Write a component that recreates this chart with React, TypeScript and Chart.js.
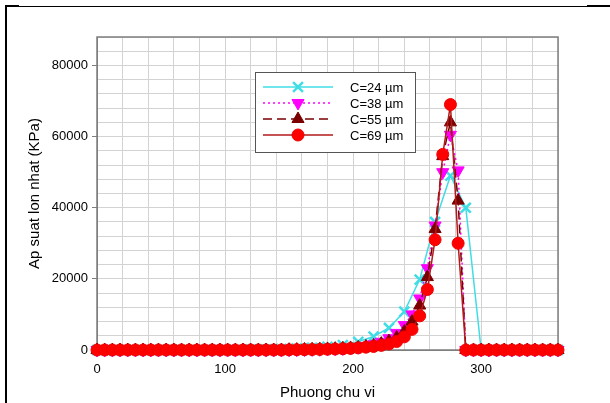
import React, { useEffect, useRef } from 'react';
import { Chart, registerables } from 'chart.js';
import { drawPoint } from 'chart.js/helpers';

Chart.register(...registerables);

// ---- data ----
const angles6 = [
  0, 6, 12, 18, 24, 30, 36, 42, 48, 54, 60, 66, 72, 78, 84, 90, 96, 102, 108, 114,
  120, 126, 132, 138, 144, 150, 156, 162, 168, 174, 180, 186, 192, 198, 204, 210,
  216, 222, 228, 234, 240, 246, 252, 258, 264, 270, 276, 282, 288, 294, 300, 306,
  312, 318, 324, 330, 336, 342, 348, 354, 360,
];
const angles12 = [
  0, 12, 24, 36, 48, 60, 72, 84, 96, 108, 120, 132, 144, 156, 168, 180, 192, 204,
  216, 228, 240, 252, 264, 276, 288, 300, 312, 324, 336, 348, 360,
];

const c24 = [
  0, 0, 0, 0, 0, 0, 0, 0, 0, 0,
  100, 180, 280, 420, 600, 900, 1400, 2300, 3800, 6200, 10800, 19800, 36000, 49000, 40000,
  0, 0, 0, 0, 0, 0,
];
const c38 = [
  0, 0, 0, 0, 0, 0, 0, 0, 0, 0, 0, 0, 0, 0, 0, 0, 0, 0, 0, 0, 0, 0, 0, 0, 0,
  60, 80, 110, 150, 200, 270, 350, 450, 600, 800, 1100, 1600, 2300, 3300, 4800, 7000,
  10000, 14500, 23000, 35000, 50000, 60500, 50500,
  0, 0, 0, 0, 0, 0, 0, 0, 0, 0, 0, 0, 0,
];
const c55 = [
  0, 0, 0, 0, 0, 0, 0, 0, 0, 0, 0, 0, 0, 0, 0, 0, 0, 0, 0, 0, 0, 0, 0, 0, 0,
  80, 110, 150, 190, 240, 300, 380, 480, 580, 700, 1000, 1300, 1800, 2500, 3500, 5200,
  8000, 12500, 20500, 34000, 54500, 64000, 42000,
  0, 0, 0, 0, 0, 0, 0, 0, 0, 0, 0, 0, 0,
];
const c69 = [
  0, 0, 0, 0, 0, 0, 0, 0, 0, 0, 0, 0, 0, 0, 0, 0, 0, 0, 0, 0, 0, 0, 0, 0, 0,
  50, 80, 100, 130, 170, 220, 280, 350, 450, 600, 800, 1000, 1300, 1700, 2400, 3700,
  5800, 9600, 17000, 31000, 55000, 69000, 30000,
  0, 0, 0, 0, 0, 0, 0, 0, 0, 0, 0, 0, 0,
];

const seriesLabels = ['C=24 µm', 'C=38 µm', 'C=55 µm', 'C=69 µm'];
const xTickLabels = [0, 100, 200, 300];
const yTickLabels = [0, 20000, 40000, 60000, 80000];
const xTitle = 'Phuong chu vi';
const yTitle = 'Ap suat lon nhat (KPa)';

const FONT = "'Liberation Sans', Arial, Helvetica, sans-serif";

const toXY = (xs: number[], ys: number[]) => xs.map((x, i) => ({ x, y: ys[i] }));

const borderPlugin = {
  id: 'plotBorder',
  beforeDatasetsDraw(chart: any) {
    const { ctx, chartArea } = chart;
    ctx.save();
    ctx.strokeStyle = '#7f7f7f';
    ctx.lineWidth = 1.5;
    ctx.strokeRect(chartArea.left, chartArea.top, chartArea.right - chartArea.left, chartArea.bottom - chartArea.top);
    ctx.restore();
  },
};

const boxLegendPlugin = {
  id: 'boxLegend',
  afterDatasetsDraw(chart: any) {
    const { ctx } = chart;
    const boxL = 255, boxT = 72, boxR = 415, boxB = 152;
    ctx.save();
    ctx.fillStyle = '#ffffff';
    ctx.fillRect(boxL, boxT, boxR - boxL, boxB - boxT);
    ctx.strokeStyle = '#555555';
    ctx.lineWidth = 1;
    ctx.strokeRect(boxL + 0.5, boxT + 0.5, boxR - boxL, boxB - boxT);
    const order = [0, 1, 2, 3];
    order.forEach((i, k) => {
      const ds = chart.data.datasets[i];
      const y = 87 + k * 16;
      ctx.save();
      ctx.setLineDash(ds.borderDash || []);
      ctx.strokeStyle = ds.borderColor;
      ctx.lineWidth = ds.borderWidth;
      ctx.beginPath();
      ctx.moveTo(263, y);
      ctx.lineTo(333, y);
      ctx.stroke();
      ctx.restore();
      ctx.save();
      ctx.setLineDash([]);
      ctx.fillStyle = ds.pointBackgroundColor;
      ctx.strokeStyle = ds.pointBorderColor;
      ctx.lineWidth = ds.pointBorderWidth ?? 1;
      drawPoint(ctx, {
        pointStyle: ds.pointStyle,
        rotation: ds.pointRotation || 0,
        radius: ds.pointRadius,
        borderWidth: ds.pointBorderWidth ?? 1,
      } as any, 298, y);
      ctx.restore();
      ctx.fillStyle = '#000';
      ctx.font = `13px ${FONT}`;
      ctx.textAlign = 'left';
      ctx.textBaseline = 'middle';
      ctx.fillText(seriesLabels[i], 350, y + 1);
    });
    ctx.restore();
  },
};

export default function App() {
  const ref = useRef<HTMLCanvasElement | null>(null);

  useEffect(() => {
    if (!ref.current) return;
    const chart = new Chart(ref.current, {
      type: 'line',
      data: {
        datasets: [
          {
            label: seriesLabels[0],
            data: toXY(angles12, c24),
            borderColor: '#3fdde6',
            backgroundColor: '#3fdde6',
            borderWidth: 1.5,
            pointStyle: 'crossRot',
            pointRadius: 7,
            pointBorderWidth: 2.5,
            pointBackgroundColor: '#3fdde6',
            pointBorderColor: '#3fdde6',
            order: 4,
            clip: false,
          },
          {
            label: seriesLabels[1],
            data: toXY(angles6, c38),
            borderColor: '#ff00ff',
            backgroundColor: '#ff00ff',
            borderWidth: 1.5,
            borderDash: [2, 3],
            pointStyle: 'triangle',
            pointRotation: 180,
            pointRadius: 7,
            pointBorderWidth: 1,
            pointBackgroundColor: '#ff00ff',
            pointBorderColor: '#ff00ff',
            order: 3,
            clip: false,
          },
          {
            label: seriesLabels[2],
            data: toXY(angles6, c55),
            borderColor: '#7a0000',
            backgroundColor: '#7a0000',
            borderWidth: 1.5,
            borderDash: [9, 5],
            pointStyle: 'triangle',
            pointRadius: 7,
            pointBorderWidth: 1,
            pointBackgroundColor: '#7a0000',
            pointBorderColor: '#7a0000',
            order: 2,
            clip: false,
          },
          {
            label: seriesLabels[3],
            data: toXY(angles6, c69),
            borderColor: '#b31a1a',
            backgroundColor: '#ff0000',
            borderWidth: 1.5,
            pointStyle: 'circle',
            pointRadius: 6,
            pointBorderWidth: 1,
            pointBackgroundColor: '#ff0000',
            pointBorderColor: '#f00000',
            order: 1,
            clip: false,
          },
        ] as any,
      },
      options: {
        animation: false,
        responsive: false,
        devicePixelRatio: 1,
        layout: { padding: { top: 37, right: 52, left: 0, bottom: 0 } },
        plugins: {
          legend: { display: false },
          tooltip: { enabled: false },
        },
        elements: { line: { tension: 0 } },
        scales: {
          x: {
            type: 'linear',
            min: 0,
            max: 360,
            afterFit: (s: any) => { s.height = 53; },
            ticks: {
              stepSize: 20,
              autoSkip: false,
              maxRotation: 0,
              padding: 8,
              color: '#000',
              font: { family: FONT, size: 13 },
              callback: (v: any) => (xTickLabels.includes(Number(v)) ? String(v) : ''),
            },
            grid: {
              color: '#d3d3d3',
              lineWidth: 1,
              tickLength: 4,
              tickColor: (c: any) => (c.tick && xTickLabels.includes(c.tick.value) ? '#7f7f7f' : 'rgba(0,0,0,0)'),
            },
            border: { color: '#7f7f7f' },
            title: {
              display: true,
              text: xTitle,
              color: '#000',
              font: { family: FONT, size: 15 },
              padding: { top: 0, bottom: 1 },
            },
          },
          y: {
            type: 'linear',
            min: 0,
            max: 88000,
            afterFit: (s: any) => { s.width = 97; },
            ticks: {
              stepSize: 4000,
              autoSkip: false,
              padding: 4,
              color: '#000',
              font: { family: FONT, size: 13 },
              callback: (v: any) => (yTickLabels.includes(Number(v)) ? String(v) : ''),
            },
            grid: {
              color: '#d3d3d3',
              lineWidth: 1,
              tickLength: 5,
              tickColor: (c: any) => (c.tick && yTickLabels.includes(c.tick.value) ? '#7f7f7f' : 'rgba(0,0,0,0)'),
            },
            border: { color: '#7f7f7f' },
            title: {
              display: true,
              text: yTitle,
              color: '#000',
              font: { family: FONT, size: 15 },
              padding: { top: 26, bottom: 0 },
            },
          },
        },
      } as any,
      plugins: [borderPlugin, boxLegendPlugin],
    });
    return () => chart.destroy();
  }, []);

  return (
    <div style={{ position: 'fixed', left: 0, top: 0, width: 610, height: 403, background: '#fff' }}>
      <canvas ref={ref} width={610} height={403} style={{ position: 'absolute', left: 0, top: 0, width: 610, height: 403 }} />
      <div style={{ position: 'absolute', left: 5, top: 6, width: 2, height: 397, background: '#000' }} />
      <div style={{ position: 'absolute', left: 5, top: 6, width: 605, height: 1, background: '#000' }} />
      <div style={{ position: 'absolute', left: 5, top: 5, width: 14, height: 2, background: '#000' }} />
      <div style={{ position: 'absolute', left: 587, top: 5, width: 23, height: 2, background: '#000' }} />
    </div>
  );
}
